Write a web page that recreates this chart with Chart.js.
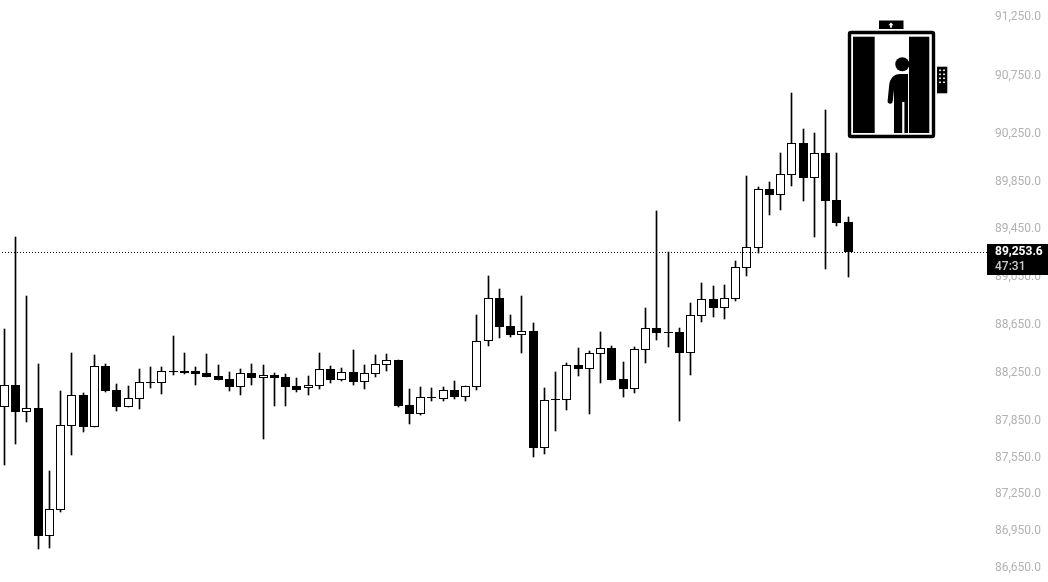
<!DOCTYPE html>
<html>
<head>
<meta charset="utf-8">
<title>Candles</title>
<script src="https://cdn.jsdelivr.net/npm/chart.js@4"></script>
<style>
  html, body { margin: 0; padding: 0; background: #fff; overflow: hidden; }
  #wrap { position: relative; width: 1048px; height: 582px; }
  #icon { position: absolute; left: 840px; top: 10px; }
</style>
</head>
<body>
<div id="wrap">
  <canvas id="priceChart" width="1048" height="582"></canvas>
  <!-- elevator picture sitting on the chart -->
  <svg id="icon" width="120" height="135" viewBox="0 0 120 135">
    <rect x="39" y="10.5" width="24.5" height="8.5" fill="#000"/>
    <path d="M51 12.5l2.6 2.8h-1.7v2.5h-1.8v-2.5h-1.7z" fill="#fff"/>
    <rect x="9.5" y="22.5" width="84" height="104" rx="1.5" fill="#fff" stroke="#000" stroke-width="3.4"/>
    <rect x="13" y="26.7" width="21.7" height="96.3" fill="#000"/>
    <rect x="69" y="26.7" width="20.3" height="96.3" fill="#000"/>
    <circle cx="62.3" cy="54.3" r="7" fill="#000"/>
    <path d="M68 64h-8c-6 0-10.2 4.5-10.8 11l-1.6 16c-.3 3.2 4.6 3.8 5.1.5l1.3-12v43.5h8.2v-31h2.2v31h3.6z" fill="#000"/>
    <rect x="97" y="56.7" width="10.3" height="26.6" fill="#000"/>
    <g fill="#ddd">
      <rect x="99" y="59.5" width="2" height="1.6"/><rect x="103" y="59.5" width="2" height="1.6"/>
      <rect x="99" y="63.5" width="2" height="1.6"/><rect x="103" y="63.5" width="2" height="1.6"/>
      <rect x="99" y="67.5" width="2" height="1.6"/><rect x="103" y="67.5" width="2" height="1.6"/>
      <rect x="99" y="71.5" width="2" height="1.6"/><rect x="103" y="71.5" width="2" height="1.6"/>
    </g>
  </svg>
</div>
<script>
const opens = [87967,88149,87926,87959,86908,87120,87811,88067,87802,88307,88108,87967,88033,88174,88166,88266,88266,88266,88249,88224,88199,88133,88249,88208,88232,88216,88141,88125,88141,88282,88191,88257,88174,88241,88315,88357,87984,87910,88050,88033,88108,88050,88133,88515,88873,88640,88565,88598,87629,88033,88025,88315,88282,88406,88456,88199,88116,88440,88623,88590,88590,88415,88723,88865,88790,88865,89124,89291,89788,89737,89906,90177,89881,90092,89695,89510];
const highs = [88615,89384,88890,88324,87440,88100,88415,88083,88398,88324,88158,88141,88282,88299,88299,88556,88415,88299,88406,88315,88257,88282,88324,88315,88249,88241,88208,88224,88415,88307,88290,88440,88315,88398,88406,88357,88116,88133,88125,88133,88183,88141,88731,89057,88948,88731,88890,88665,88125,88257,88332,88456,88431,88590,88473,88340,88465,88790,89603,89258,88623,88831,88998,88973,88982,89183,89898,89805,89847,90092,90601,90296,90262,90457,90092,89552];
const lows = [87489,87662,87844,86802,86810,87104,87572,87761,87802,88091,87934,87967,87951,88125,88075,88232,88241,88149,88216,88191,88100,88067,88149,87703,87976,87976,88091,88067,88116,88166,88183,88149,88116,88216,88266,87967,87827,87901,88017,88017,88033,88017,88108,88473,88540,88548,88415,87555,87580,87769,87943,88224,87910,88166,88191,88050,88083,88332,88523,88465,87852,88232,88673,88715,88698,88848,89057,89250,89569,89611,89813,89687,89384,89116,89476,89049];
const closes = [88149,87926,87959,86908,87128,87819,88067,87802,88307,88100,87967,88042,88174,88174,88266,88266,88249,88241,88216,88191,88133,88249,88208,88232,88208,88133,88108,88149,88282,88191,88257,88174,88249,88324,88357,87976,87910,88050,88050,88108,88050,88141,88515,88873,88631,88565,88598,87629,88025,88033,88315,88282,88415,88456,88191,88116,88448,88623,88581,88590,88415,88731,88865,88790,88873,89132,89300,89788,89737,89915,90177,89881,90092,89687,89502,89253.6];
const tickValues = [91250,90750,90250,89850,89450,89050,88650,88250,87850,87550,87250,86950,86650];
const lastPrice = 89253.6;
const countdown = "47:31";

const candleIndex = opens.map(function(v, i) { return i; });

// snap bars to whole pixels so the wicks stay 1px sharp
const snapBars = {
  id: "snapBars",
  beforeDatasetsDraw: function(chart) {
    chart.data.datasets.forEach(function(ds, d) {
      chart.getDatasetMeta(d).data.forEach(function(bar) {
        bar.x = Math.floor(bar.x) + 0.5;
        bar.y = Math.round(bar.y);
        bar.base = Math.round(bar.base);
        if (bar.y === bar.base) bar.base = bar.y + 1;
      });
    });
  }
};

// dotted last price line and the black price box on the axis
const lastPriceMark = {
  id: "lastPriceMark",
  afterDatasetsDraw: function(chart) {
    const ctx = chart.ctx;
    const y = Math.floor(chart.scales.y.getPixelForValue(lastPrice)) + 0.5;
    ctx.save();
    ctx.strokeStyle = "#000";
    ctx.lineWidth = 1;
    ctx.setLineDash([1, 2]);
    ctx.beginPath();
    ctx.moveTo(2, y);
    ctx.lineTo(chart.chartArea.right, y);
    ctx.stroke();
    ctx.restore();
  },
  afterDraw: function(chart) {
    const ctx = chart.ctx;
    const y = Math.floor(chart.scales.y.getPixelForValue(lastPrice));
    ctx.save();
    ctx.fillStyle = "#000";
    ctx.fillRect(987, y - 8, 61, 31);
    ctx.textBaseline = "middle";
    ctx.textAlign = "left";
    ctx.font = "bold 12px Roboto";
    ctx.fillStyle = "#fff";
    ctx.fillText(lastPrice.toLocaleString("en-US", { minimumFractionDigits: 1 }), 995, y);
    ctx.font = "500 12px Roboto";
    ctx.fillStyle = "#cccccc";
    ctx.fillText(countdown, 995, y + 15);
    ctx.restore();
  }
};

new Chart(document.getElementById("priceChart").getContext("2d"), {
  type: "bar",
  data: {
    datasets: [{
      label: "Wick",
      order: 2,
      barThickness: 1,
      backgroundColor: "#000",
      borderWidth: 0,
      data: candleIndex.map(function(i) { return { x: i, y: [lows[i], highs[i]] }; })
    }, {
      label: "Body",
      order: 1,
      barThickness: 9,
      borderColor: "#000",
      borderWidth: 1,
      borderSkipped: false,
      inflateAmount: 0,
      backgroundColor: candleIndex.map(function(i) { return closes[i] >= opens[i] ? "#fff" : "#000"; }),
      data: candleIndex.map(function(i) { return { x: i, y: [opens[i], closes[i]] }; })
    }]
  },
  options: {
    responsive: false,
    animation: false,
    grouped: false,
    events: [],
    layout: { padding: 0 },
    plugins: { legend: { display: false }, tooltip: { enabled: false } },
    scales: {
      x: {
        type: "linear",
        offset: false,
        min: -0.3867,
        max: 87.347,
        display: false
      },
      y: {
        type: "logarithmic",
        position: "right",
        min: 86533,
        max: 91396,
        grid: { display: false, drawTicks: false },
        border: { display: false },
        afterBuildTicks: function(axis) {
          axis.ticks = tickValues.map(function(v) { return { value: v }; });
        },
        afterFit: function(axis) {
          axis.width = 61;
          axis.paddingTop = 0;
          axis.paddingBottom = 0;
        },
        ticks: {
          autoSkip: false,
          padding: 8,
          color: "#b2b2b2",
          font: { family: "Roboto", size: 12 },
          callback: function(value) {
            return Number(value).toLocaleString("en-US", { minimumFractionDigits: 1 });
          }
        }
      }
    }
  },
  plugins: [snapBars, lastPriceMark]
});
</script>
</body>
</html>
